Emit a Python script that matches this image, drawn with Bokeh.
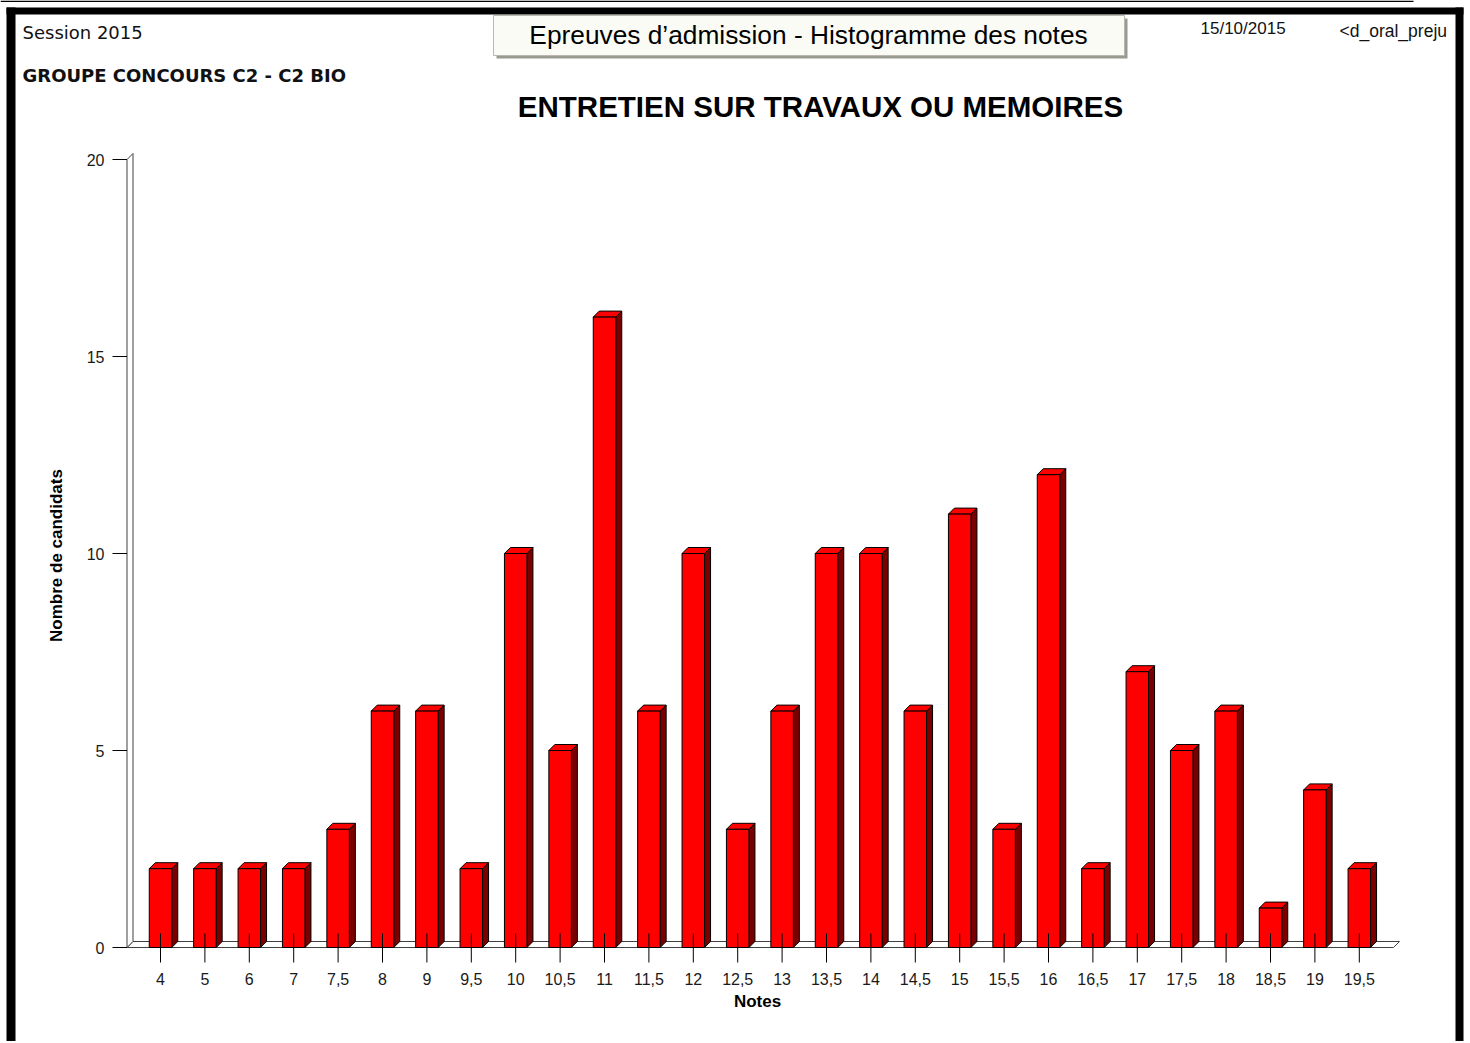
from bokeh.plotting import figure
from bokeh.models import Range1d
from bokeh.core.properties import value
from bokeh.embed import file_html
from bokeh.resources import INLINE

# ---- data ----
notes = ["4", "5", "6", "7", "7,5", "8", "9", "9,5", "10", "10,5", "11", "11,5", "12", "12,5",
         "13", "13,5", "14", "14,5", "15", "15,5", "16", "16,5", "17", "17,5", "18", "18,5", "19", "19,5"]
counts = [2, 2, 2, 2, 3, 6, 6, 2, 10, 5, 16, 6, 10, 3,
          6, 10, 10, 6, 11, 3, 12, 2, 7, 5, 6, 1, 4, 2]
y_ticks = [0, 5, 10, 15, 20]

title_text = "ENTRETIEN SUR TRAVAUX OU MEMOIRES"
header_box_text = "Epreuves d\u2019admission - Histogramme des notes"

# ---- pixel <-> data helpers (page pixels) ----
X0, DX = 160.0, 44.4     # page x of first bar centre, px per category
Y0, DY = 947.0, 39.4     # page y of value 0, px per unit
W, H = 1468, 1041        # canvas size (page has no margin)


def X(px):
    return (px - X0) / DX


def Y(py):
    return (Y0 - py) / DY


p = figure(width=W, height=H, output_backend="svg", toolbar_location=None,
           x_range=Range1d(X(0), X(W)), y_range=Range1d(Y(H), Y(0)),
           x_axis_type=None, y_axis_type=None, min_border=0, title=None)
p.grid.visible = False
p.outline_line_color = None
p.background_fill_color = "white"
p.border_fill_color = "white"

FONT = value("Liberation Sans")
DFONT = value("DejaVu Sans")
ox = 6.0 / DX   # 3D depth, x
oy = 6.0 / DY   # 3D depth, y
bw = 22.5 / DX  # bar front width

# ---- floor and wall ----
p.patch([X(126.5), X(1393), X(1399), X(132.5)], [0, 0, oy, oy],
        fill_color="white", line_color="#404040", line_width=1)
p.patch([X(126.5), X(126.5), X(132.5), X(132.5)], [0, 20, 20 + oy, oy],
        fill_color="white", line_color="#404040", line_width=1)

# ---- bars ----
idx = list(range(len(counts)))
side_xs, side_ys, top_xs, top_ys = [], [], [], []
for i, v in zip(idx, counts):
    r = i + bw / 2
    l = i - bw / 2
    side_xs.append([r, r + ox, r + ox, r])
    side_ys.append([0, oy, v + oy, v])
    top_xs.append([l, l + ox, r + ox, r])
    top_ys.append([v, v + oy, v + oy, v])
p.patches(side_xs, side_ys, fill_color="#7a0000", line_color="black", line_width=1)
p.patches(top_xs, top_ys, fill_color="#ff0000", line_color="black", line_width=1)
p.vbar(x=idx, top=counts, bottom=0, width=bw, fill_color="#ff0000",
       line_color="black", line_width=1)

# ---- axes (drawn) ----
p.segment(x0=idx, y0=[Y(933)] * len(idx), x1=idx, y1=[Y(962)] * len(idx),
          line_color="black", line_width=1)
p.text(x=idx, y=[Y(978)] * len(idx), text=notes, text_font=FONT,
       text_font_size=value("16px"), text_align="center", text_baseline="middle",
       text_color="#1a1a1a")
p.segment(x0=[X(112)] * len(y_ticks), y0=y_ticks, x1=[X(126.5)] * len(y_ticks), y1=y_ticks,
          line_color="black", line_width=1)
p.text(x=[X(104)] * len(y_ticks), y=y_ticks, text=[str(t) for t in y_ticks], text_font=FONT,
       text_font_size=value("16px"), text_align="right", text_baseline="middle",
       text_color="#1a1a1a")
p.text(x=[X(757)], y=[Y(1001)], text=["Notes"], text_font=FONT, text_font_size=value("17px"),
       text_font_style="bold", text_align="center", text_baseline="middle", text_color="black")
p.text(x=[X(56)], y=[Y(555)], text=["Nombre de candidats"], text_font=FONT,
       text_font_size=value("17px"), text_font_style="bold", text_align="center",
       text_baseline="middle", angle=1.5708, text_color="black")

# ---- title ----
p.text(x=[X(820)], y=[Y(106)], text=[title_text], text_font=FONT,
       text_font_size=value("29.5px"), text_font_style="bold", text_align="center",
       text_baseline="middle", text_color="black")

# ---- header ----
p.text(x=[X(22)], y=[Y(32)], text=["Session 2015"], text_font=DFONT,
       text_font_size=value("18px"), text_align="left", text_baseline="middle",
       text_color="#111111")
p.text(x=[X(22)], y=[Y(75)], text=["GROUPE CONCOURS C2 - C2 BIO"], text_font=DFONT,
       text_font_size=value("18px"), text_font_style="bold", text_align="left",
       text_baseline="middle", text_color="#111111")
# box with shadow
p.quad(left=[X(496)], right=[X(1127)], top=[Y(18)], bottom=[Y(58)],
       fill_color="#9a9a90", line_color=None)
p.quad(left=[X(493)], right=[X(1124)], top=[Y(15)], bottom=[Y(55)],
       fill_color="#fbfbf6", line_color="#b8b8b0", line_width=1)
p.text(x=[X(808)], y=[Y(34)], text=[header_box_text], text_font=FONT,
       text_font_size=value("26.3px"), text_align="center", text_baseline="middle",
       text_color="black")
p.text(x=[X(1200)], y=[Y(28)], text=["15/10/2015"], text_font=FONT,
       text_font_size=value("17px"), text_align="left", text_baseline="middle",
       text_color="#111111")
p.text(x=[X(1339)], y=[Y(30)], text=["<d_oral_preju"], text_font=FONT,
       text_font_size=value("17.5px"), text_align="left", text_baseline="middle",
       text_color="#111111")

# ---- black frame bands ----
p.quad(left=[X(6), X(6), X(1455), X(0)], right=[X(1463), X(15), X(1463), X(1413)],
       top=[Y(7), Y(7), Y(7), Y(0)], bottom=[Y(14), Y(H), Y(H), Y(1.5)],
       fill_color="black", line_color=None)

open("out.html", "w").write(file_html(p, INLINE))
